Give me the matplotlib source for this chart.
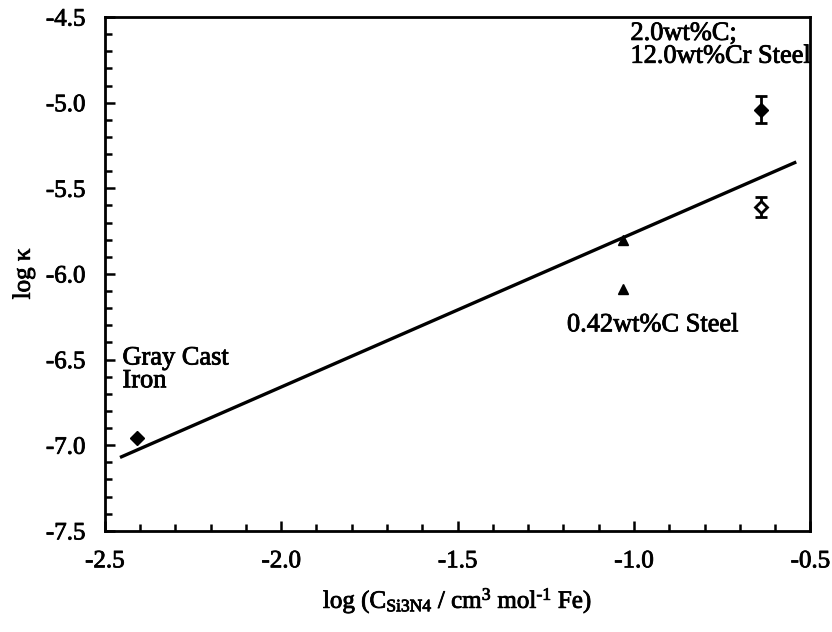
import matplotlib

matplotlib.use("Agg")
import matplotlib.pyplot as plt
import matplotlib.patheffects as pe
from matplotlib.ticker import MultipleLocator

plt.rcParams["font.family"] = ["Liberation Serif", "DejaVu Serif"]
plt.rcParams["mathtext.fontset"] = "custom"
plt.rcParams["mathtext.rm"] = "Liberation Serif"
plt.rcParams["mathtext.it"] = "Liberation Serif:italic"
plt.rcParams["axes.unicode_minus"] = False

# --- data ---
gray_x = [-2.41]
gray_y = [-6.96]

steel042_x = [-1.03, -1.03]
steel042_y = [-5.80, -6.09]

crsteel_x = [-0.64]
crsteel_y = [-5.04]
crsteel_err = [0.08]

crsteel_open_x = [-0.64]
crsteel_open_y = [-5.61]
crsteel_open_err = [0.06]

# fitted line log k = slope * x + intercept, drawn over this x range
fit_slope = 0.90
fit_intercept = -4.86
fit_x = [-2.457, -0.54]

FS = 18
# scanned print look: thicken glyph strokes a little
INK = [pe.withStroke(linewidth=0.6, foreground="black")]

fig = plt.figure(figsize=(8.32, 6.32), dpi=100)
ax = fig.add_axes([0.126, 0.160, 0.848, 0.813])

fit_y = [fit_slope * x + fit_intercept for x in fit_x]
ax.plot(fit_x, fit_y, color="black", linewidth=2.4, solid_capstyle="butt")

ax.plot(gray_x, gray_y, "D", color="black", markersize=7)
ax.plot(steel042_x, steel042_y, "^", color="black", markersize=7.5)
ax.errorbar(crsteel_x, crsteel_y, yerr=crsteel_err, fmt="D", color="black",
            markersize=7, capsize=4.5, elinewidth=2, capthick=2)
ax.errorbar(crsteel_open_x, crsteel_open_y, yerr=crsteel_open_err, fmt="D",
            color="black", mfc="white", mew=2, markersize=6, capsize=4.5,
            elinewidth=2, capthick=2)

ax.text(-1.01, -4.665, "2.0wt%C;\n12.0wt%Cr Steel", fontsize=19,
        va="center", ha="left", linespacing=1.05, path_effects=INK)
ax.text(-1.19, -6.30, "0.42wt%C Steel", fontsize=19, va="center", ha="left",
        path_effects=INK)
ax.text(-2.45, -6.56, "Gray Cast\nIron", fontsize=19, va="center", ha="left",
        linespacing=1.05, path_effects=INK)

ax.set_xlim(-2.5, -0.5)
ax.set_ylim(-7.5, -4.5)
ax.xaxis.set_major_locator(MultipleLocator(0.5))
ax.xaxis.set_minor_locator(MultipleLocator(0.1))
ax.yaxis.set_major_locator(MultipleLocator(0.5))
ax.yaxis.set_minor_locator(MultipleLocator(0.1))
ax.xaxis.set_major_formatter(plt.FuncFormatter(lambda v, p: f"{v:.1f}"))
ax.yaxis.set_major_formatter(plt.FuncFormatter(lambda v, p: f"{v:.1f}"))
ax.tick_params(which="both", direction="in", width=1.8, labelsize=FS,
               top=False, right=False)
ax.tick_params(axis="x", which="major", length=7, pad=14)
ax.tick_params(axis="y", which="major", length=7, pad=14)
ax.tick_params(which="minor", length=5)
for s in ax.spines.values():
    s.set_linewidth(2)

ax.set_xlabel(r"log (C$_{\rm Si3N4}$ / cm$^{\rm 3}$ mol$^{\text{-}1}$ Fe)",
              fontsize=FS, labelpad=10)
ax.set_ylabel("log κ", fontsize=FS, labelpad=8)

for t in ax.get_xticklabels() + ax.get_yticklabels():
    t.set_path_effects(INK)
ax.xaxis.label.set_path_effects(INK)
ax.yaxis.label.set_path_effects(INK)

fig.savefig("out.png", dpi=100)
